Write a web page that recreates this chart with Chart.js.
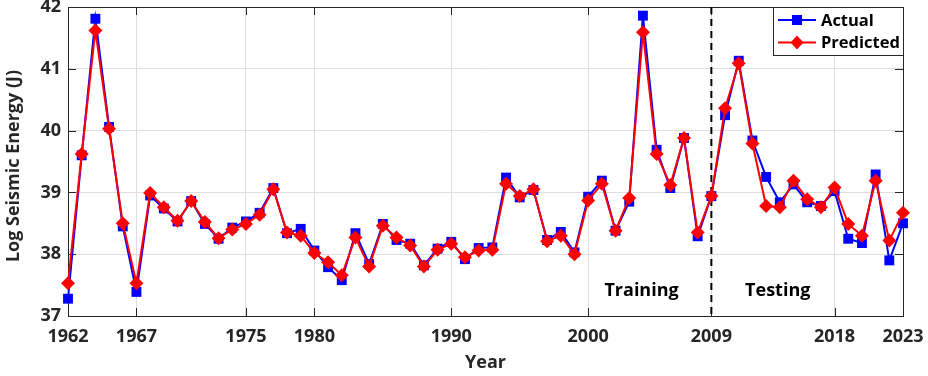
<!DOCTYPE html>
<html>
<head>
<meta charset="utf-8">
<script src="https://cdn.jsdelivr.net/npm/chart.js@4.4.1/dist/chart.umd.min.js"></script>
<style>
html,body{margin:0;padding:0;background:#fff;}
#wrap{width:928px;height:376px;position:relative;}
</style>
</head>
<body>
<div id="wrap"><canvas id="c" width="928" height="376"></canvas></div>
<script>
const years = [1962,1963,1964,1965,1966,1967,1968,1969,1970,1971,1972,1973,1974,1975,1976,1977,1978,1979,1980,1981,
  1982,1983,1984,1985,1986,1987,1988,1989,1990,1991,1992,1993,1994,1995,1996,1997,1998,1999,2000,2001,
  2002,2003,2004,2005,2006,2007,2008,2009,2010,2011,2012,2013,2014,2015,2016,2017,2018,2019,2020,2021,2022,2023];
const actual = [37.28,39.60,41.81,40.06,38.45,37.39,38.95,38.74,38.53,38.86,38.49,38.25,38.43,38.53,38.67,39.07,38.34,38.41,38.06,37.79,
  37.58,38.34,37.84,38.49,38.23,38.17,37.82,38.09,38.20,37.92,38.10,38.11,39.24,38.92,39.04,38.23,38.36,38.03,38.93,39.19,
  38.38,38.85,41.86,39.69,39.07,39.88,38.29,38.94,40.25,41.13,39.84,39.25,38.84,39.13,38.84,38.78,39.02,38.25,38.18,39.29,37.90,38.50];
const predicted = [37.53,39.62,41.62,40.03,38.50,37.53,38.99,38.76,38.54,38.86,38.52,38.26,38.40,38.49,38.64,39.05,38.35,38.30,38.02,37.87,
  37.66,38.27,37.80,38.46,38.27,38.14,37.80,38.07,38.17,37.95,38.06,38.07,39.14,38.94,39.05,38.21,38.30,38.00,38.87,39.14,
  38.38,38.91,41.59,39.62,39.12,39.88,38.35,38.94,40.36,41.09,39.79,38.78,38.76,39.19,38.89,38.76,39.08,38.49,38.30,39.19,38.22,38.67];
const xTicks = [1962,1967,1975,1980,1990,2000,2009,2018,2023];
const yTicks = [37,38,39,40,41,42];
const splitYear = 2009;
const seriesNames = ['Actual','Predicted'];
const xTitle = 'Year';
const yTitle = 'Log Seismic Energy (J)';
const phaseLabels = [{text:'Training', x:2003.9}, {text:'Testing', x:2013.85}];
const phaseLabelY = 37.41;

const FONT = '"Open Sans", "Noto Sans", sans-serif';
const TXT = '#262626';

const framePlugin = {
  id:'frame',
  beforeDatasetsDraw(chart){
    const {ctx, chartArea:a, scales:{x,y}} = chart;
    ctx.save();
    ctx.strokeStyle = TXT; ctx.lineWidth = 1;
    ctx.beginPath();
    xTicks.forEach(v=>{
      const px = Math.round(x.getPixelForValue(v))+0.5;
      ctx.moveTo(px, a.bottom); ctx.lineTo(px, a.bottom-8);
      ctx.moveTo(px, a.top); ctx.lineTo(px, a.top+8);
    });
    yTicks.forEach(v=>{
      const py = Math.round(y.getPixelForValue(v))+0.5;
      ctx.moveTo(a.left, py); ctx.lineTo(a.left+8, py);
      ctx.moveTo(a.right, py); ctx.lineTo(a.right-8, py);
    });
    ctx.stroke();
    ctx.strokeRect(Math.round(a.left)+0.5, Math.round(a.top)+0.5, Math.round(a.right-a.left), Math.round(a.bottom-a.top));
    const sx = x.getPixelForValue(splitYear);
    ctx.setLineDash([7,5]); ctx.lineWidth = 2; ctx.strokeStyle = '#000';
    ctx.beginPath(); ctx.moveTo(sx, a.top); ctx.lineTo(sx, a.bottom+2); ctx.stroke();
    ctx.setLineDash([]);
    ctx.fillStyle = '#000'; ctx.font = 'bold 18px '+FONT;
    ctx.textAlign='center'; ctx.textBaseline='middle';
    phaseLabels.forEach(p=>{
      ctx.fillText(p.text, x.getPixelForValue(p.x), y.getPixelForValue(phaseLabelY));
    });
    ctx.fillStyle = TXT; ctx.font = 'bold 18px '+FONT;
    ctx.fillText(xTitle, (a.left+a.right)/2, 363);
    ctx.save();
    ctx.translate(13.5, 166);
    ctx.rotate(-Math.PI/2);
    ctx.fillText(yTitle, 0, 0);
    ctx.restore();
    ctx.restore();
  },
  afterDatasetsDraw(chart){
    const {ctx, chartArea:a} = chart;
    ctx.save();
    const L = 773, T = Math.round(a.top)+0.5, R = Math.round(a.right)+0.5, B = 55.5;
    ctx.fillStyle='#fff'; ctx.fillRect(L, T, R-L, B-T);
    ctx.strokeStyle = TXT; ctx.lineWidth=1; ctx.strokeRect(L+0.5, T, R-L-0.5, B-T);
    const rows = [20, 42.5];
    chart.data.datasets.forEach((ds,i)=>{
      const cy = rows[i];
      ctx.strokeStyle = ds.borderColor; ctx.lineWidth = 2;
      ctx.beginPath(); ctx.moveTo(778, cy); ctx.lineTo(816, cy); ctx.stroke();
      ctx.fillStyle = ds.pointBackgroundColor;
      ctx.beginPath();
      if (ds.pointStyle==='rect'){ ctx.rect(797-5, cy-5, 10, 10); }
      else { ctx.moveTo(797, cy-7); ctx.lineTo(803.5, cy); ctx.lineTo(797, cy+7); ctx.lineTo(790.5, cy); ctx.closePath(); }
      ctx.fill();
      ctx.fillStyle = '#000'; ctx.font = 'bold 16.5px '+FONT;
      ctx.textAlign='left'; ctx.textBaseline='middle';
      ctx.fillText(ds.label, 821, cy+1);
    });
    ctx.restore();
  }
};

new Chart(document.getElementById('c'), {
  type:'line',
  data:{
    datasets:[
      {label:seriesNames[0], data:years.map((yr,i)=>({x:yr,y:actual[i]})), borderColor:'#0000ff', backgroundColor:'#0000ff',
       pointBackgroundColor:'#0000ff', pointBorderColor:'#0000ff', borderWidth:2, pointStyle:'rect', pointRadius:7, pointBorderWidth:0,
       tension:0, clip:false, order:1},
      {label:seriesNames[1], data:years.map((yr,i)=>({x:yr,y:predicted[i]})), borderColor:'#ff0000', backgroundColor:'#ff0000',
       pointBackgroundColor:'#ff0000', pointBorderColor:'#ff0000', borderWidth:2, pointStyle:'rectRot', pointRadius:7, pointBorderWidth:0,
       tension:0, clip:false, order:0}
    ]
  },
  options:{
    responsive:false, animation:false, devicePixelRatio:1,
    layout:{padding:{top:5, right:25, left:0, bottom:0}},
    plugins:{legend:{display:false}, tooltip:{enabled:false}},
    scales:{
      x:{type:'linear', min:1962, max:2023,
        afterBuildTicks(s){ s.ticks = xTicks.map(v=>({value:v})); },
        afterFit(s){ s.height = 60; s.paddingLeft = 0; s.paddingRight = 0; },
        grid:{color:'#dedede', drawTicks:false, lineWidth:1},
        border:{display:false},
        ticks:{autoSkip:false, maxRotation:0, padding:10, color:TXT, font:{family:FONT, size:18, weight:'bold'},
          callback:v=>String(v)}
      },
      y:{min:37, max:42,
        afterBuildTicks(s){ s.ticks = yTicks.map(v=>({value:v})); },
        afterFit(s){ s.width = 68; s.paddingTop = 0; s.paddingBottom = 0; },
        grid:{color:'#dedede', drawTicks:false, lineWidth:1},
        border:{display:false},
        ticks:{padding:7, color:TXT, font:{family:FONT, size:18, weight:'bold'}, callback:v=>String(v)}
      }
    }
  },
  plugins:[framePlugin]
});
</script>
</body>
</html>
